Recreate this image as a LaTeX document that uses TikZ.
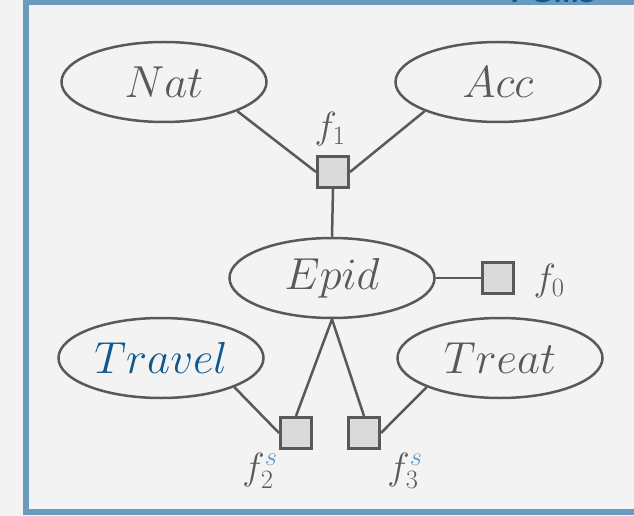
\RequirePackage{fix-cm}
\documentclass[tikz,border=0pt]{standalone}
\usepackage{fontspec}
\setsansfont{Liberation Sans}
\usetikzlibrary{shapes.geometric}

\definecolor{txtgray}{RGB}{89,89,89}
\definecolor{boxfill}{RGB}{218,218,218}
\definecolor{bggray}{RGB}{243,243,243}
\definecolor{frameblue}{RGB}{106,154,190}
\definecolor{varblue}{RGB}{16,88,142}
\definecolor{supblue}{RGB}{98,152,198}

\begin{document}
\begin{tikzpicture}[x=1bp,y=-1bp,
    var/.style={ellipse,draw=txtgray,line width=2.5bp,minimum width=205bp,
      minimum height=80bp,inner sep=0pt,text=txtgray,font=\fontsize{45}{48}\selectfont},
    fac/.style={rectangle,draw=txtgray,fill=boxfill,line width=3bp,
      minimum size=31bp,inner sep=0pt},
    flab/.style={text=txtgray,font=\fontsize{38}{42}\selectfont},
    edge/.style={draw=txtgray,line width=2.5bp}]
  \fill[bggray] (0,0) rectangle (634,516);
  \useasboundingbox (0,0) rectangle (634,516);
  % frame, its right side runs off the page
  \draw[frameblue,line width=6bp] (26,2) rectangle (660,512);
  \node[anchor=base,text=varblue,font=\sffamily\bfseries\fontsize{30}{32}\selectfont]
    (title) at (553,2.5) {PGMs};

  % variables
  \node[var] (nat) at (164,82) {$Nat$};
  \node[var] (acc) at (498,82) {$Acc$};
  \node[var] (epid) at (332,278) {$Epid$};
  \node[var,text=varblue] (travel) at (161,358) {$Travel$};
  \node[var] (treat) at (500,358) {$Treat$};

  % factors
  \node[fac] (f1) at (333,172) {};
  \node[fac] (f0) at (498,278) {};
  \node[fac] (f2) at (296,433) {};
  \node[fac] (f3) at (364,433) {};
  \node[flab] (l1) at (330,129) {$f_1$};
  \node[flab] (l0) at (549,281) {$f_0$};
  \node[flab] (l2) at (260,471) {$f_2^{\textcolor{supblue}{s}}$};
  \node[flab] (l3) at (405,471) {$f_3^{\textcolor{supblue}{s}}$};

  \draw[edge] (nat.south east) -- (f1.west);
  \draw[edge] (acc.south west) -- (f1.east);
  \draw[edge] (f1.south) -- (epid.north);
  \draw[edge] (epid.east) -- (f0.west);
  \draw[edge] (epid.south) -- (f2.north);
  \draw[edge] (epid.south) -- (f3.north);
  \draw[edge] (travel.south east) -- (f2.west);
  \draw[edge] (treat.south west) -- (f3.east);
\end{tikzpicture}
\end{document}
